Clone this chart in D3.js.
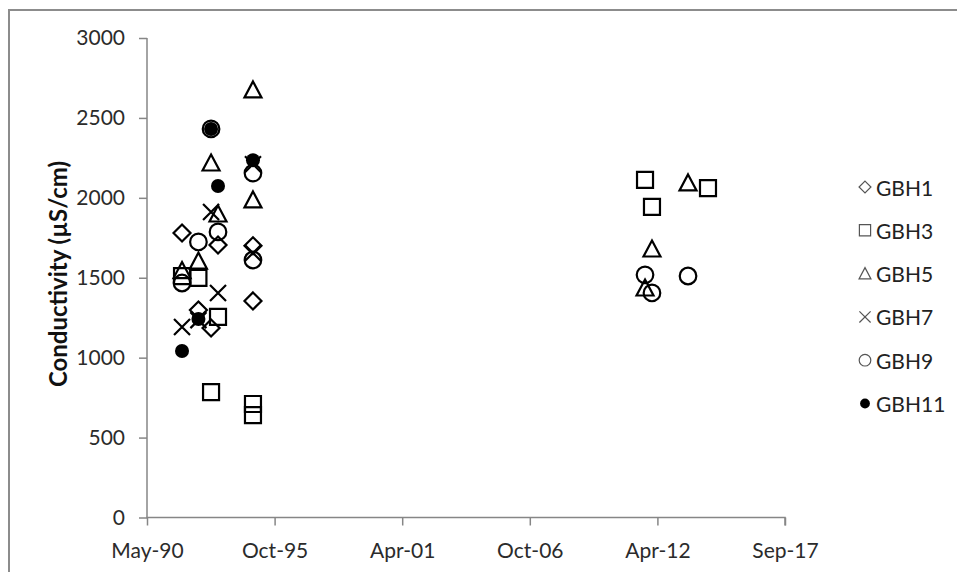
<!DOCTYPE html>
<html><head><meta charset="utf-8">
<script src="https://cdn.jsdelivr.net/npm/d3@7"></script>
<style>body{margin:0;background:#fff;} svg{display:block;}</style>
</head><body>
<svg id="chart" width="957" height="572"></svg>
<script>
// ---- data ----
const seriesNames = ["GBH1", "GBH3", "GBH5", "GBH7", "GBH9", "GBH11"];
const seriesShapes = ["diamond", "square", "triangle", "cross", "circle", "dot"];

const gbh1Dates  = ["1991-11-07", "1992-07-21", "1993-02-04", "1993-05-24", "1994-11-23", "1994-11-23"];
const gbh1Values = [1780, 1298, 1186, 1705, 1700, 1355];

const gbh3Dates  = ["1991-11-07", "1992-07-21", "1993-02-04", "1993-05-24", "1994-11-23", "1994-11-23", "2011-09-20", "2012-01-07", "2014-06-03"];
const gbh3Values = [1510, 1499, 785, 1255, 710, 640, 2112, 1943, 2061];

const gbh5Dates  = ["1991-11-07", "1992-07-21", "1993-02-04", "1993-05-24", "1994-11-23", "1994-11-23", "2011-09-20", "2012-01-07", "2013-07-25"];
const gbh5Values = [1545, 1604, 2218, 1899, 2675, 1987, 1436, 1680, 2093];

const gbh7Dates  = ["1991-11-07", "1992-07-21", "1993-02-04", "1993-05-24", "1994-11-23", "1994-11-23"];
const gbh7Values = [1192, 1235, 1911, 1405, 2210, 1655];

const gbh9Dates  = ["1991-11-07", "1992-07-21", "1993-02-04", "1993-05-24", "1994-11-23", "1994-11-23", "2011-09-20", "2012-01-07", "2013-07-25"];
const gbh9Values = [1467, 1724, 2431, 1787, 2155, 1611, 1518, 1405, 1511];

const gbh11Dates  = ["1991-11-07", "1992-07-21", "1993-02-04", "1993-05-24", "1994-11-23"];
const gbh11Values = [1042, 1242, 2431, 2074, 2235];

const yTickValues = [0, 500, 1000, 1500, 2000, 2500, 3000];
const xTickDates  = ["1990-05-07", "1995-10-28", "2001-04-19", "2006-10-10", "2012-04-01", "2017-09-22"];
const xTickLabels = ["May-90", "Oct-95", "Apr-01", "Oct-06", "Apr-12", "Sep-17"];
const yAxisTitle = "Conductivity (µS/cm)";

// ---- build ----
const parse = d3.utcParse("%Y-%m-%d");
const allDates = [gbh1Dates, gbh3Dates, gbh5Dates, gbh7Dates, gbh9Dates, gbh11Dates];
const allValues = [gbh1Values, gbh3Values, gbh5Values, gbh7Values, gbh9Values, gbh11Values];
const series = seriesNames.map((name, i) => ({
  name, shape: seriesShapes[i],
  points: allDates[i].map((d, j) => ({ date: parse(d), value: allValues[i][j] }))
}));

const svg = d3.select("#chart");
const FONT = "Lato, 'Open Sans', sans-serif";

// outer border
svg.append("rect").attr("x", 9).attr("y", 10).attr("width", 1000).attr("height", 1000)
  .attr("fill", "#fff").attr("stroke", "#8c8c8c").attr("stroke-width", 2);

const x = d3.scaleUtc()
  .domain([parse(xTickDates[0]), parse(xTickDates[xTickDates.length - 1])])
  .range([147, 785]);
const y = d3.scaleLinear().domain([0, 3000]).range([517.5, 38]);

// y axis
const yAxis = d3.axisLeft(y).tickValues(yTickValues).tickSize(8).tickPadding(14).tickFormat(d3.format("d"));
const gy = svg.append("g").attr("transform", "translate(147,0)").call(yAxis);
// x axis
const xAxis = d3.axisBottom(x).tickValues(xTickDates.map(parse)).tickSize(8).tickPadding(14)
  .tickFormat((d, i) => xTickLabels[i]);
const gx = svg.append("g").attr("transform", "translate(0,517.5)").call(xAxis);

[gx, gy].forEach(g => {
  g.select(".domain").attr("stroke", "#868686").attr("stroke-width", 1.5);
  g.selectAll(".tick line").attr("stroke", "#868686").attr("stroke-width", 1.5);
  g.selectAll(".tick text").attr("fill", "#2b2b2b").attr("font-family", FONT).attr("font-size", 21);
});
gy.select(".domain").attr("d", "M-0,517.5V38");
gx.select(".domain").attr("d", "M147,0.75V0H785V8");
gx.selectAll(".tick text").attr("dy", "0.9em");

// y title
svg.append("text")
  .attr("transform", "translate(57,274) rotate(-90)")
  .attr("text-anchor", "middle").attr("dominant-baseline", "central")
  .attr("font-family", FONT).attr("font-weight", "bold").attr("font-size", 24)
  .attr("fill", "#111").text(yAxisTitle);

// markers
function markerPath(shape, k) {
  if (shape === "diamond") { const r = 8.5 * k; return `M0,${-r}L${r},0L0,${r}L${-r},0Z`; }
  if (shape === "square") { const h = 8 * k; return `M${-h},${-h}H${h}V${h}H${-h}Z`; }
  if (shape === "triangle") { const w = 8.5 * k; return `M0,${-8.5 * k}L${w},${7.5 * k}L${-w},${7.5 * k}Z`; }
  if (shape === "cross") { const h = 8 * k; return `M${-h},${-h}L${h},${h}M${h},${-h}L${-h},${h}`; }
  return null;
}
function drawMarker(g, shape, cx, cy, k, color, sw) {
  if (shape === "circle") {
    g.append("circle").attr("cx", cx).attr("cy", cy).attr("r", 8.3 * k)
      .attr("fill", "none").attr("stroke", color).attr("stroke-width", sw);
  } else if (shape === "dot") {
    g.append("circle").attr("cx", cx).attr("cy", cy).attr("r", 7 * k).attr("fill", color);
  } else {
    g.append("path").attr("transform", `translate(${cx},${cy})`).attr("d", markerPath(shape, k))
      .attr("fill", "none").attr("stroke", color).attr("stroke-width", sw);
  }
}

const gm = svg.append("g");
series.forEach(s => {
  const g = gm.append("g").attr("class", "series-" + s.name);
  s.points.forEach(p => drawMarker(g, s.shape, x(p.date), y(p.value), 1, "#000", 2.2));
});

// legend
const lg = svg.append("g");
series.forEach((s, i) => {
  const cy = 187 + i * 43.3;
  drawMarker(lg, s.shape, 865, cy, 0.7, s.shape === "dot" ? "#000" : "#555", 1.2);
  lg.append("text").attr("x", 876).attr("y", cy).attr("dominant-baseline", "central")
    .attr("font-family", FONT).attr("font-size", 21).attr("fill", "#222").text(s.name);
});
</script>
</body></html>
